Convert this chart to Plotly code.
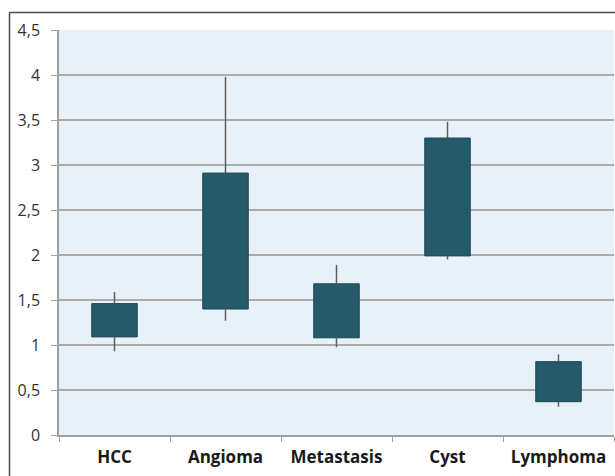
import plotly.graph_objects as go

categories = ["HCC", "Angioma", "Metastasis", "Cyst", "Lymphoma"]
box_low = [1.09, 1.40, 1.08, 1.99, 0.37]
box_high = [1.46, 2.91, 1.68, 3.30, 0.815]
whisker_low = [0.93, 1.27, 0.975, 1.95, 0.315]
whisker_high = [1.59, 3.98, 1.89, 3.48, 0.895]

heights = [h - l for h, l in zip(box_high, box_low)]
up = [w - h for w, h in zip(whisker_high, box_high)]
down = [l - w for l, w in zip(box_low, whisker_low)]

fig = go.Figure()
fig.add_trace(go.Bar(
    x=categories, y=heights, base=box_low, width=0.41,
    marker=dict(color="#245a6a", line=dict(color="#1c4855", width=1)),
    hoverinfo="skip", showlegend=False,
))
fig.add_trace(go.Scatter(
    x=categories, y=box_high, mode="markers",
    marker=dict(size=0.1, color="rgba(0,0,0,0)"),
    error_y=dict(type="data", symmetric=False, array=up, arrayminus=[0]*5,
                 width=0, thickness=1.5, color="#5e5e5e"),
    showlegend=False, hoverinfo="skip",
))
fig.add_trace(go.Scatter(
    x=categories, y=box_low, mode="markers",
    marker=dict(size=0.1, color="rgba(0,0,0,0)"),
    error_y=dict(type="data", symmetric=False, array=[0]*5, arrayminus=down,
                 width=0, thickness=1.5, color="#5e5e5e"),
    showlegend=False, hoverinfo="skip",
))

fig.update_layout(
    width=615, height=476,
    margin=dict(l=59, r=1, t=30, b=41),
    paper_bgcolor="white",
    plot_bgcolor="#e9f1f8",
    separators=",.",
    xaxis=dict(
        type="category", range=[-0.5, 4.5],
        showgrid=False, showline=True, linecolor="#a0a0a0", linewidth=1.5,
        ticks="outside", tickson="boundaries", ticklen=5, tickcolor="#a0a0a0",
        tickfont=dict(family="Open Sans", size=17, color="#1a1a1a", weight="bold"),
        ticklabelstandoff=6,
    ),
    yaxis=dict(
        range=[0, 4.5], dtick=0.5, tick0=0,
        showgrid=True, gridcolor="#ababab", gridwidth=1.5,
        showline=True, linecolor="#a0a0a0", linewidth=1.5,
        ticks="outside", ticklen=6, tickcolor="#a0a0a0",
        tickfont=dict(family="Open Sans", size=16, color="#333333"),
        zeroline=False,
        ticklabelstandoff=8,
    ),
    shapes=[
        dict(type="line", xref="paper", yref="paper", x0=-0.0892, x1=-0.0892,
             y0=1.0432, y1=-0.2, line=dict(color="#4a4a4a", width=1.5)),
        dict(type="line", xref="paper", yref="paper", x0=-0.0892, x1=1.02,
             y0=1.0432, y1=1.0432, line=dict(color="#4a4a4a", width=1.5)),
    ],
)

fig.write_html(
    "out.html",
    config={"displayModeBar": False},
    post_script="document.body.style.margin='0';document.body.style.overflow='hidden';",
)
